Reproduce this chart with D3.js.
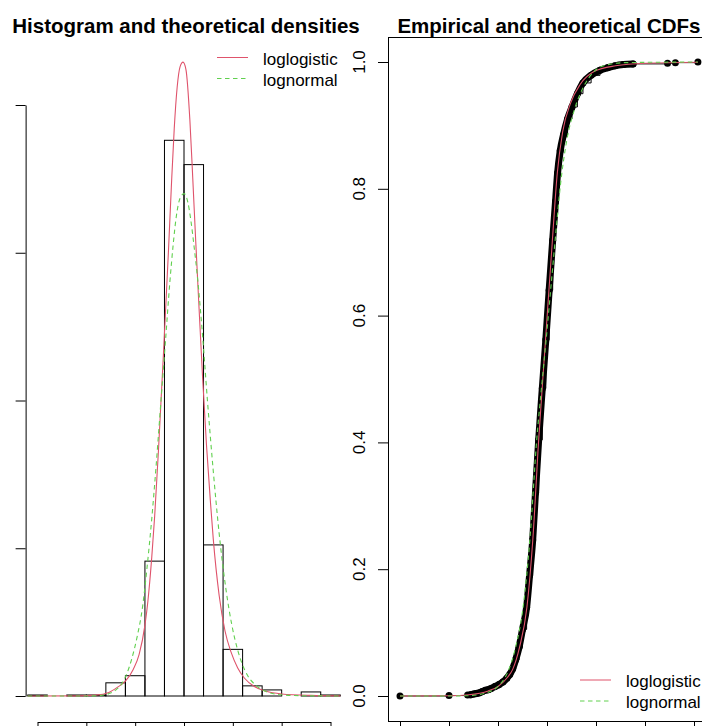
<!DOCTYPE html>
<html lang="en">
    <head>
        <meta charset="UTF-8" />
        <title>Histogram and CDF comparison</title>
        <style>
            body { margin: 0; background: #fff; }
            svg { display: block; font-family: "Liberation Sans", Arial, sans-serif; }
        </style>
    </head>
    <body>
        <script src="https://cdn.jsdelivr.net/npm/d3@7"></script>
        <div id="app"></div>
        <script>
        //DATOS - histograma (bordes de clase y conteos)
            const breaks = [0.4, 0.6, 0.8, 1.0, 1.2, 1.4, 1.6, 1.8, 2.0, 2.2, 2.4, 2.6, 2.8, 3.0, 3.2, 3.4, 3.6];
            const counts = [1, 0, 1, 1, 13, 20, 133, 548, 524, 149, 46, 10, 6, 0, 4, 1];

        //DATOS - densidades teoricas [x, densidad]
            const loglogisticDens = [[0.4,0],[0.9,0.0005],[1.1,0.003],[1.23,0.012],[1.32,0.03],[1.40,0.05],[1.48,0.09],
                [1.54,0.14],[1.60,0.24],[1.63,0.32],[1.67,0.47],[1.70,0.61],[1.74,0.84],[1.79,1.16],[1.84,1.5],[1.87,1.72],
                [1.90,1.92],[1.93,2.06],[1.96,2.13],[1.99,2.145],[2.02,2.12],[2.06,1.95],[2.09,1.75],[2.12,1.54],[2.15,1.34],
                [2.19,1.08],[2.23,0.85],[2.27,0.66],[2.30,0.53],[2.36,0.34],[2.42,0.22],[2.48,0.15],[2.55,0.095],[2.62,0.06],
                [2.72,0.032],[2.84,0.016],[3.0,0.007],[3.3,0.002],[3.6,0.0005]];
            const lognormalDens = [[0.4,0],[1.0,0],[1.15,0.002],[1.23,0.008],[1.30,0.02],[1.37,0.045],[1.42,0.08],[1.46,0.12],
                [1.52,0.2],[1.575,0.30],[1.62,0.43],[1.67,0.6],[1.71,0.76],[1.76,0.98],[1.81,1.2],[1.855,1.40],[1.89,1.53],
                [1.92,1.62],[1.96,1.685],[2.0,1.70],[2.04,1.67],[2.07,1.61],[2.10,1.53],[2.14,1.41],[2.19,1.22],[2.24,1.0],
                [2.30,0.76],[2.36,0.55],[2.43,0.36],[2.49,0.24],[2.55,0.155],[2.60,0.105],[2.65,0.07],[2.74,0.035],
                [2.84,0.015],[3.0,0.004],[3.2,0.001],[3.6,0]];

        //DATOS - CDF empirica [x, F]
            const ecdfSparse = [[0.5,0],[1.0,0.0007],[1.19,0.0014],[3.23,0.998],[3.31,0.999],[3.54,1]];
            const ecdfBand = [[1.22,0.002],[1.25,0.003],[1.28,0.004],[1.31,0.005],[1.34,0.007],[1.37,0.009],[1.40,0.010],
                [1.43,0.012],[1.47,0.015],[1.51,0.018],[1.55,0.022],[1.59,0.028],[1.62,0.034],[1.65,0.043],[1.68,0.057],
                [1.715,0.077],[1.75,0.105],[1.792,0.14],[1.822,0.19],[1.854,0.246],[1.882,0.32],[1.915,0.404],[1.952,0.485],
                [1.988,0.562],[2.022,0.64],[2.058,0.719],[2.087,0.78],[2.108,0.825],[2.135,0.86],[2.168,0.885],[2.21,0.91],
                [2.255,0.929],[2.31,0.95],[2.367,0.967],[2.45,0.979],[2.541,0.987],[2.62,0.991],[2.694,0.994],[2.78,0.996],
                [2.878,0.997]];

        //DATOS - CDF teoricas [x, F]
            const loglogisticCdf = [[0.5,0],[1.0,0.0005],[1.2,0.002],[1.4,0.008],[1.5,0.015],[1.6,0.03],[1.65,0.042],
                [1.72,0.077],[1.795,0.14],[1.855,0.246],[1.915,0.404],[1.985,0.562],[2.055,0.719],[2.105,0.825],[2.16,0.89],
                [2.24,0.935],[2.34,0.965],[2.48,0.985],[2.7,0.994],[3.0,0.998],[3.54,0.9995]];
            const lognormalCdf = [[0.5,0],[1.0,0],[1.2,0.0005],[1.4,0.006],[1.5,0.015],[1.6,0.038],[1.68,0.077],[1.756,0.14],
                [1.825,0.246],[1.895,0.404],[1.94,0.48],[1.99,0.56],[2.04,0.645],[2.09,0.73],[2.14,0.81],[2.2,0.875],
                [2.28,0.925],[2.37,0.96],[2.48,0.985],[2.6,0.995],[2.8,0.999],[3.54,1]];

        //TICKS
            const xTicks = [0.5, 1.0, 1.5, 2.0, 2.5, 3.0, 3.5];
            const densTicks = [0, 0.5, 1.0, 1.5, 2.0];
            const cdfTicks = [0, 0.2, 0.4, 0.6, 0.8, 1.0];
            const legendNames = ["loglogistic", "lognormal"];

            const red = "#DF536B";
            const green = "#61D04F";

        //SVG
            const w = 702;
            const h = 726;
            const svg = d3.select("#app")
                .append("svg")
                .attr("width", w)
                .attr("height", h);

        //ESCALAS
            const xL = d3.scaleLinear().domain([0.5, 3.5]).range([37.5, 330.5]);
            const yL = d3.scaleLinear().domain([0, 2]).range([696, 105]);
            const xR = d3.scaleLinear().domain([0.5, 3.5]).range([400, 694]);
            const yR = d3.scaleLinear().domain([0, 1]).range([696, 62]);

            const n = d3.sum(counts);
            const bins = counts.map((c, i) => ({ x0: breaks[i], x1: breaks[i + 1], d: c / (n * (breaks[i + 1] - breaks[i])) }));
            const xMin = d3.min(ecdfSparse, d => d[0]);
            const xMax = d3.max(ecdfSparse, d => d[0]);
            const pad = (xMax - xMin) * 0.04;

        //PANEL IZQUIERDO - histograma
            svg.append("g")
                .selectAll("rect")
                .data(bins)
                .enter()
                .append("rect")
                .attr("x", d => xL(d.x0))
                .attr("y", d => yL(d.d))
                .attr("width", d => xL(d.x1) - xL(d.x0))
                .attr("height", d => yL(0) - yL(d.d))
                .attr("fill", "none")
                .attr("stroke", "#000")
                .attr("stroke-width", 1);

            const densLine = d3.line().x(d => xL(d[0])).y(d => yL(d[1])).curve(d3.curveMonotoneX);
            svg.append("path").attr("d", densLine(loglogisticDens))
                .attr("fill", "none").attr("stroke", red).attr("stroke-width", 1.1);
            svg.append("path").attr("d", densLine(lognormalDens))
                .attr("fill", "none").attr("stroke", green).attr("stroke-width", 1.1).attr("stroke-dasharray", "4.5,3.5");

        //AXIS izquierdo (etiquetas fuera del recorte)
            svg.append("g")
                .attr("transform", "translate(" + xL(xMin - pad) + ",0)")
                .call(d3.axisLeft(yL).tickValues(densTicks).tickSize(10).tickSizeOuter(0).tickFormat(""));
            svg.append("g")
                .attr("transform", "translate(0," + yL(-0.088) + ")")
                .call(d3.axisBottom(xL).tickValues(xTicks).tickSize(10).tickSizeOuter(0).tickFormat(""));

            svg.append("text")
                .attr("x", 186)
                .attr("y", 33)
                .attr("text-anchor", "middle")
                .style("font-weight", "bold")
                .style("font-size", "20.5px")
                .text("Histogram and theoretical densities");

        //PANEL DERECHO - CDF
            const bx0 = xR(xMin - pad), bx1 = xR(xMax + pad);
            const by0 = yR(1.04), by1 = yR(-0.04);

            const stepLine = d3.line().x(d => xR(d[0])).y(d => yR(d[1])).curve(d3.curveStepAfter);
            const allEcdf = ecdfSparse.slice(0, 3).concat(ecdfBand, ecdfSparse.slice(3));
            svg.append("path").attr("d", stepLine(allEcdf))
                .attr("fill", "none").attr("stroke", "#000").attr("stroke-width", 1);

            const bandLine = d3.line().x(d => xR(d[0])).y(d => yR(d[1])).curve(d3.curveMonotoneX);
            svg.append("path").attr("d", bandLine(ecdfBand))
                .attr("fill", "none").attr("stroke", "#000").attr("stroke-width", 7)
                .attr("stroke-linejoin", "round").attr("stroke-linecap", "round");

            svg.append("g")
                .selectAll("circle")
                .data(allEcdf)
                .enter()
                .append("circle")
                .attr("cx", d => xR(d[0]))
                .attr("cy", d => yR(d[1]))
                .attr("r", 3.5)
                .attr("fill", "#000");

            const cdfLine = d3.line().x(d => xR(d[0])).y(d => yR(d[1])).curve(d3.curveMonotoneX);
            svg.append("path").attr("d", cdfLine(loglogisticCdf))
                .attr("fill", "none").attr("stroke", red).attr("stroke-width", 1.1);
            svg.append("path").attr("d", cdfLine(lognormalCdf))
                .attr("fill", "none").attr("stroke", green).attr("stroke-width", 1.1).attr("stroke-dasharray", "4.5,3.5");

        //CAJA y AXIS derecho
            svg.append("rect")
                .attr("x", Math.round(bx0) + 0.5)
                .attr("y", Math.round(by0) + 0.5)
                .attr("width", bx1 - bx0)
                .attr("height", Math.round(by1) - Math.round(by0))
                .attr("fill", "none")
                .attr("stroke", "#000");

            svg.append("g")
                .attr("transform", "translate(" + Math.round(bx0) + ",0)")
                .call(d3.axisLeft(yR).tickValues(cdfTicks).tickSize(10).tickSizeOuter(0).tickFormat(""))
                .call(g => g.select(".domain").remove());
            svg.append("g")
                .attr("transform", "translate(0," + Math.round(by1) + ")")
                .call(d3.axisBottom(xR).tickValues(xTicks).tickSize(10).tickSizeOuter(0).tickFormat(""))
                .call(g => g.select(".domain").remove());

            svg.append("g")
                .selectAll("text")
                .data(cdfTicks)
                .enter()
                .append("text")
                .attr("transform", d => "translate(365," + yR(d) + ") rotate(-90)")
                .attr("text-anchor", "middle")
                .style("font-size", "17px")
                .text(d => d3.format(".1f")(d));

            svg.append("text")
                .attr("x", (bx0 + bx1) / 2)
                .attr("y", 33)
                .attr("text-anchor", "middle")
                .style("font-weight", "bold")
                .style("font-size", "20.5px")
                .text("Empirical and theoretical CDFs");

        //LEYENDAS
            const legend = (x, y) => {
                const g = svg.append("g").attr("transform", "translate(" + x + "," + y + ")");
                g.selectAll("line")
                    .data(legendNames)
                    .enter()
                    .append("line")
                    .attr("x1", 0).attr("x2", 31)
                    .attr("y1", (d, i) => i * 21).attr("y2", (d, i) => i * 21)
                    .attr("stroke", (d, i) => i === 0 ? red : green)
                    .attr("stroke-dasharray", (d, i) => i === 0 ? null : "4.5,3.5");
                g.selectAll("text")
                    .data(legendNames)
                    .enter()
                    .append("text")
                    .attr("x", 46)
                    .attr("y", (d, i) => i * 21 + 7)
                    .style("font-size", "17px")
                    .text(d => d);
            };
            legend(217, 57.5);
            legend(580, 680);
        </script>
    </body>
</html>
